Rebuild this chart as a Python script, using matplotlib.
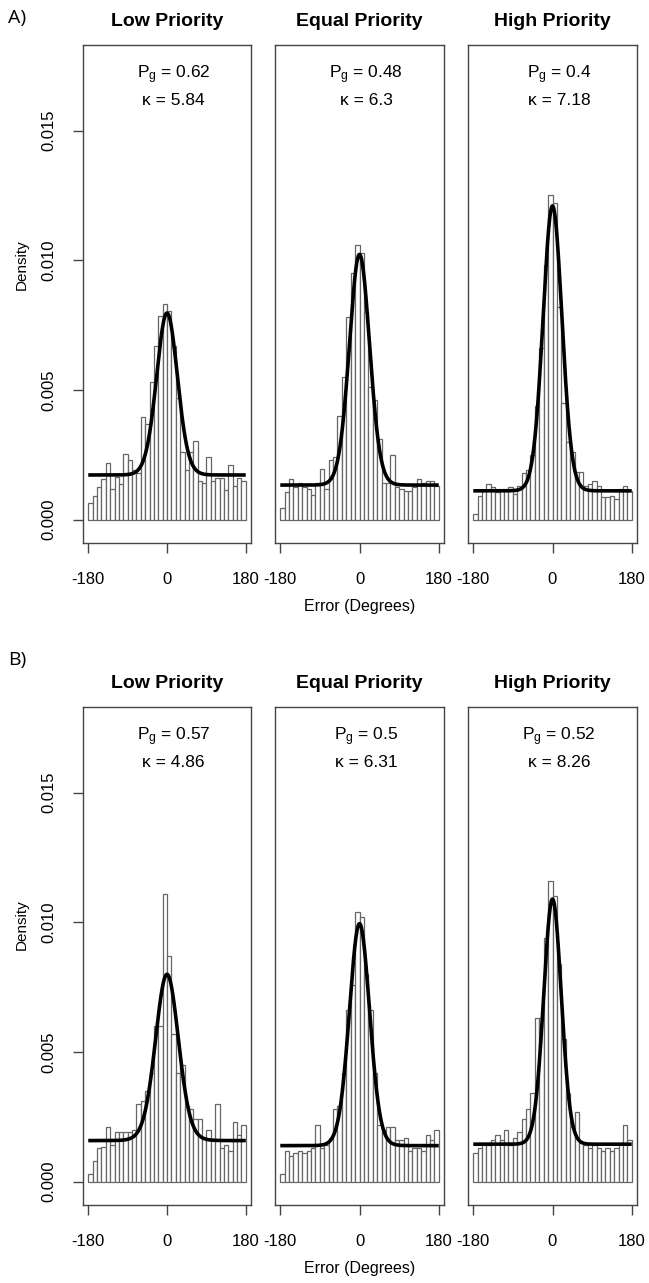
import numpy as np
import matplotlib
matplotlib.use("Agg")
import matplotlib.pyplot as plt

plt.rcParams['font.family'] = ['Liberation Sans', 'DejaVu Sans']
plt.rcParams['mathtext.fontset'] = 'custom'
plt.rcParams['mathtext.rm'] = 'Liberation Sans'
plt.rcParams['mathtext.it'] = 'Liberation Sans'

conditions = ["Low Priority", "Equal Priority", "High Priority"]
row_labels = ["A)", "B)"]
bin_edges = np.arange(-180, 181, 10)

# Histogram densities (36 bins of 10 degrees)
hist_A_low = [0.00065, 0.00092, 0.00124, 0.00155, 0.00219, 0.00117, 0.00163, 0.00137, 0.00253,
              0.0023, 0.0019, 0.0018, 0.00397, 0.0037, 0.0053, 0.0067, 0.00786, 0.0083,
              0.00806, 0.0067, 0.0047, 0.0026, 0.0019, 0.0026, 0.00304, 0.0015, 0.0014, 0.0024,
              0.0015, 0.0016, 0.0016, 0.00114, 0.0021, 0.0013, 0.0016, 0.0015]
hist_A_equal = [0.00046, 0.00105, 0.00155, 0.00127, 0.00143, 0.00127, 0.00117, 0.00095, 0.00143,
                0.00194, 0.00117, 0.0023, 0.0024, 0.0040, 0.0055, 0.0078, 0.0095, 0.0106,
                0.0103, 0.0080, 0.0051, 0.0046, 0.0031, 0.00143, 0.00143, 0.0025, 0.00127, 0.0012,
                0.0011, 0.0011, 0.00127, 0.00155, 0.0014, 0.0015, 0.0015, 0.0013]
hist_A_high = [0.0002, 0.0009, 0.00114, 0.00137, 0.00127, 0.00105, 0.0011, 0.0011, 0.00127,
               0.00098, 0.0013, 0.0018, 0.0019, 0.0025, 0.0044, 0.0066, 0.0098, 0.0125,
               0.0122, 0.0082, 0.0045, 0.0030, 0.0026, 0.00185, 0.00185, 0.0013, 0.00137, 0.0015,
               0.0013, 0.00086, 0.00086, 0.0009, 0.0008, 0.0012, 0.0013, 0.0011]
hist_B_low = [0.0003, 0.0008, 0.0013, 0.00134, 0.0021, 0.0014, 0.0019, 0.0019, 0.0019,
              0.0019, 0.0020, 0.0030, 0.0031, 0.0035, 0.0042, 0.0060, 0.0060, 0.0111,
              0.0087, 0.0057, 0.0042, 0.0045, 0.0029, 0.0028, 0.0024, 0.0024, 0.0017, 0.0020,
              0.0016, 0.0030, 0.0013, 0.0014, 0.0012, 0.0023, 0.0018, 0.0022]
hist_B_equal = [0.0003, 0.0012, 0.0010, 0.0011, 0.0012, 0.0011, 0.0012, 0.0013, 0.0022,
                0.0013, 0.0014, 0.0017, 0.0028, 0.0029, 0.0042, 0.0066, 0.0076, 0.0104,
                0.0102, 0.0080, 0.0066, 0.0042, 0.0022, 0.0020, 0.0021, 0.0021, 0.0016, 0.0016,
                0.0017, 0.0012, 0.0013, 0.0013, 0.0012, 0.0018, 0.0016, 0.0020]
hist_B_high = [0.0011, 0.0013, 0.0015, 0.0014, 0.0016, 0.0018, 0.0016, 0.0020, 0.0014,
               0.0017, 0.0019, 0.0024, 0.0028, 0.0034, 0.0063, 0.0063, 0.0094, 0.0116,
               0.0110, 0.0084, 0.0055, 0.0034, 0.0021, 0.0027, 0.0015, 0.0014, 0.0013, 0.0014,
               0.0013, 0.0012, 0.0013, 0.0012, 0.0013, 0.0015, 0.0022, 0.0016]

hists = [[hist_A_low, hist_A_equal, hist_A_high],
         [hist_B_low, hist_B_equal, hist_B_high]]

# Fitted mixture-model parameters shown in each panel
pg_A = [0.62, 0.48, 0.4]
kappa_A = [5.84, 6.3, 7.18]
pg_B = [0.57, 0.5, 0.52]
kappa_B = [4.86, 6.31, 8.26]
pgs = [pg_A, pg_B]
kappas = [kappa_A, kappa_B]

yticks = [0.000, 0.005, 0.010, 0.015]

W, H = 649, 1283
fig = plt.figure(figsize=(W / 100, H / 100), dpi=100)

cols = [(83, 251), (275, 444), (468, 637)]
rows = [(45, 543), (707, 1205)]
row_label_y = [18, 660]
title_y = [21, 683]
xlabel_y = [607, 1269]
density_y = [265, 925]

box_color = '#444444'
bar_edge = '#666666'

xs = np.linspace(-180, 180, 721)

for r in range(2):
    y0, y1 = rows[r]
    for c in range(3):
        x0, x1 = cols[c]
        ax = fig.add_axes([x0 / W, 1 - y1 / H, (x1 - x0) / W, (y1 - y0) / H])
        heights = hists[r][c]
        centers = (bin_edges[:-1] + bin_edges[1:]) / 2
        ax.bar(centers, heights, width=10, color='white', edgecolor=bar_edge,
               linewidth=0.9, zorder=2)
        pg = pgs[r][c]
        k = kappas[r][c]
        vm = np.exp(k * np.cos(np.deg2rad(xs))) / (2 * np.pi * np.i0(k)) * np.pi / 180
        ax.plot(xs, (1 - pg) * vm + pg / 360, color='black', lw=2.6, zorder=3,
                solid_capstyle='butt')
        ax.set_xlim(-192, 192)
        ax.set_ylim(-0.0009, 0.0183)
        for s in ax.spines.values():
            s.set_color(box_color)
            s.set_linewidth(1.0)
        ax.set_xticks([-180, 0, 180])
        ax.set_xticklabels(['-180', '0', '180'], fontsize=12)
        ax.tick_params(axis='x', direction='out', length=7, width=1.0, color=box_color,
                       pad=14)
        if c == 0:
            ax.set_yticks(yticks)
            ax.set_yticklabels(['0.000', '0.005', '0.010', '0.015'], fontsize=12,
                               rotation=90, va='center')
            ax.tick_params(axis='y', direction='out', length=7, width=1.0,
                           color=box_color, pad=12)
        else:
            ax.set_yticks([])
        ax.text(15, 0.01716, r'P$_\mathregular{g}$ = %s' % pg, ha='center', va='center',
                fontsize=12.5)
        ax.text(15, 0.01615, u'\u03ba = %s' % k, ha='center', va='center', fontsize=12.5)
        fig.text(((x0 + x1) / 2) / W, 1 - title_y[r] / H, conditions[c],
                 ha='center', va='center', fontsize=14, fontweight='bold')
    fig.text(8 / W, 1 - row_label_y[r] / H, row_labels[r], ha='left', va='center',
             fontsize=14, family='Open Sans')
    fig.text(360 / W, 1 - xlabel_y[r] / H, 'Error (Degrees)', ha='center', va='center',
             fontsize=11.5)
    fig.text(22 / W, 1 - density_y[r] / H, 'Density', ha='center', va='center',
             fontsize=11, rotation=90)

fig.savefig('out.png', dpi=100, facecolor='white')
